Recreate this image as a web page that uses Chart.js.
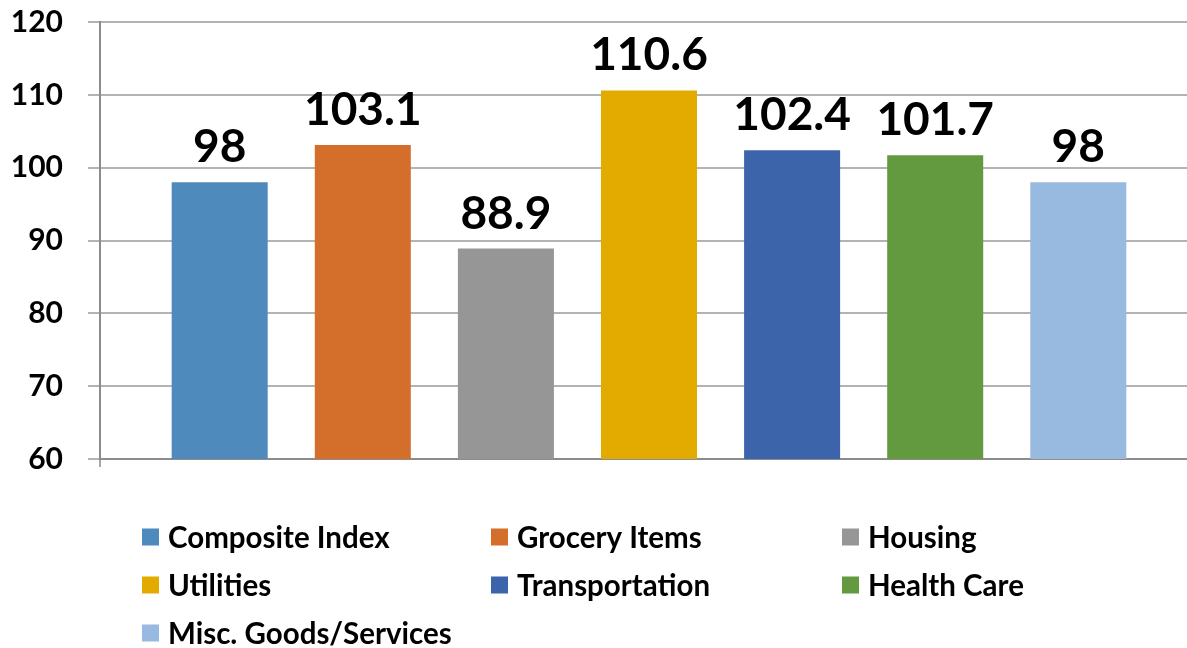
<!DOCTYPE html>
<html>
<head>
<meta charset="utf-8">
<script src="https://cdn.jsdelivr.net/npm/chart.js@4"></script>
<style>
  html, body { margin: 0; padding: 0; background: #fff; overflow: hidden; }
  #wrap { width: 1187px; height: 648px; overflow: hidden; }
</style>
</head>
<body>
<div id="wrap"><canvas id="chart" width="1198" height="648"></canvas></div>
<script>
const seriesNames = ['Composite Index', 'Grocery Items', 'Housing', 'Utilities', 'Transportation', 'Health Care', 'Misc. Goods/Services'];
const seriesValues = [98, 103.1, 88.9, 110.6, 102.4, 101.7, 98];
const seriesColors = ['#4f8abd', '#d46e2b', '#969696', '#e3aa00', '#3c64ab', '#63993f', '#98b9e0'];
const yTicks = [60, 70, 80, 90, 100, 110, 120];

const FONT = 'Lato, "Open Sans", sans-serif';

// value labels above each bar
const valueLabels = {
  id: 'valueLabels',
  afterDatasetsDraw(chart) {
    const ctx = chart.ctx;
    ctx.save();
    ctx.font = 'bold 46px ' + FONT;
    ctx.fillStyle = '#000';
    ctx.textAlign = 'center';
    ctx.textBaseline = 'alphabetic';
    chart.data.datasets.forEach((ds, i) => {
      const bar = chart.getDatasetMeta(i).data[0];
      ctx.fillText(String(ds.data[0]), bar.x, bar.y - 20);
    });
    ctx.restore();
  }
};

// legend laid out as a 3 column grid, like the original
const gridLegend = {
  id: 'gridLegend',
  afterDraw(chart) {
    const ctx = chart.ctx;
    const cols = [142, 491, 842];
    const rowTop = 537, rowGap = 48, box = 17;
    ctx.save();
    ctx.font = 'bold 29.5px ' + FONT;
    ctx.textBaseline = 'middle';
    ctx.textAlign = 'left';
    chart.data.datasets.forEach((ds, i) => {
      const x = cols[i % 3];
      const y = rowTop + Math.floor(i / 3) * rowGap;
      ctx.fillStyle = ds.backgroundColor;
      ctx.fillRect(x, y - box / 2, box, box);
      ctx.fillStyle = '#000';
      ctx.fillText(ds.label, x + 26, y + 1);
    });
    ctx.restore();
  }
};

new Chart(document.getElementById('chart'), {
  type: 'bar',
  data: {
    labels: [''],
    datasets: seriesNames.map((name, i) => ({
      label: name,
      data: [seriesValues[i]],
      backgroundColor: seriesColors[i],
      categoryPercentage: 0.9123,
      barPercentage: 0.671
    }))
  },
  options: {
    responsive: false,
    animation: false,
    devicePixelRatio: 1,
    layout: { padding: { top: 22, left: 0, right: 0, bottom: 0 } },
    plugins: {
      legend: { display: false },
      tooltip: { enabled: false }
    },
    scales: {
      x: {
        offset: true,
        border: { color: '#8c8c8c', width: 2 },
        grid: { drawOnChartArea: false, tickLength: 8, color: '#a6a6a6', lineWidth: 2 },
        ticks: { display: false },
        afterFit(scale) { scale.height = 189; }
      },
      y: {
        min: 60,
        max: 120,
        afterBuildTicks(scale) { scale.ticks = yTicks.map(v => ({ value: v })); },
        border: { color: '#8c8c8c', width: 2 },
        grid: { color: '#b3b3b3', lineWidth: 2, tickLength: 12 },
        ticks: {
          padding: 25,
          color: '#000',
          font: { family: FONT, size: 30, weight: 'bold' }
        },
        afterFit(scale) {
          scale.width = 100;
          scale.paddingTop = 0;
          scale.paddingBottom = 0;
        }
      }
    }
  },
  plugins: [valueLabels, gridLegend]
});
</script>
</body>
</html>
